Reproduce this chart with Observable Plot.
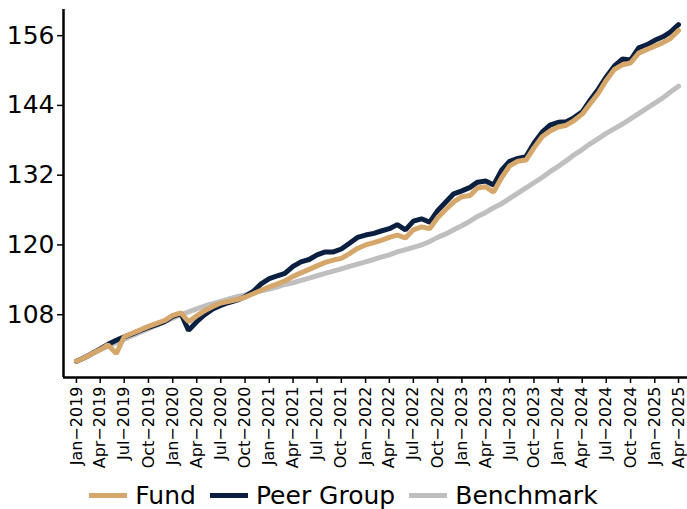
<!DOCTYPE html>
<html>
<head>
<meta charset="utf-8">
<script src="https://cdn.jsdelivr.net/npm/d3@7"></script>
<script src="https://cdn.jsdelivr.net/npm/@observablehq/plot@0.6"></script>
<style>
  html, body { margin: 0; padding: 0; background: #fff; }
  body { width: 687px; height: 509px; overflow: hidden; font-family: "DejaVu Sans", sans-serif; }
  #legend { display: flex; justify-content: center; align-items: center; height: 39px; margin-top: 6px; font-size: 25px; color: #000; }
  .item { display: flex; align-items: center; margin: 0 7px; }
  .sw { width: 38px; height: 5px; margin-right: 8px; }
</style>
</head>
<body>
<div id="chart"></div>
<div id="legend"></div>
<script>
// Monthly index values, Jan-2019 .. Apr-2025
const seriesNames = ["Fund", "Peer Group", "Benchmark"];
const seriesColors = ["#d6a76b", "#0b1f40", "#bfbfbf"];
const startMonth = "2019-01-01";
const fund = [
  100.0, 100.6, 101.3, 102.0, 102.8, 101.3, 104.2, 104.8, 105.4, 106.0, 106.5, 107.0,
  107.9, 108.3, 106.8, 107.8, 108.7, 109.4, 110.0, 110.3, 110.6, 111.0, 111.6, 112.2,
  112.8, 113.3, 113.8, 114.6, 115.2, 115.8, 116.4, 117.0, 117.4, 117.7, 118.5, 119.4,
  120.0, 120.4, 120.8, 121.3, 121.7, 121.2, 122.6, 123.1, 122.8, 124.7, 126.1, 127.4,
  128.3, 128.5, 129.8, 130.0, 129.1, 131.6, 133.6, 134.4, 134.6, 136.7, 138.6, 139.6,
  140.3, 140.6, 141.4, 142.5, 144.3, 146.1, 148.3, 150.2, 151.0, 151.3, 153.0, 153.6,
  154.2, 154.8, 155.5, 156.9
];
const peer = [
  100.0, 100.6, 101.3, 102.1, 102.9, 103.6, 104.2, 104.7, 105.3, 105.8, 106.3, 106.8,
  107.7, 108.2, 105.3, 106.8, 108.0, 109.0, 109.6, 110.1, 110.5, 111.1, 112.0, 113.3,
  114.2, 114.7, 115.1, 116.3, 117.1, 117.5, 118.3, 118.8, 118.8, 119.3, 120.3, 121.3,
  121.7, 122.0, 122.4, 122.8, 123.5, 122.6, 124.1, 124.5, 123.9, 125.9, 127.4, 128.8,
  129.3, 129.9, 130.8, 131.0, 130.3, 132.9, 134.4, 134.9, 135.2, 137.5, 139.4, 140.6,
  141.1, 141.2, 141.9, 142.9, 144.9, 146.8, 148.9, 150.8, 152.0, 151.8, 153.9, 154.4,
  155.2, 155.8, 156.6, 157.9
];
const benchmark = [
  100.0, 100.7, 101.4, 102.0, 102.6, 103.2, 103.8, 104.4, 105.0, 105.6, 106.2, 106.8,
  107.4, 108.0, 108.5, 109.0, 109.5, 109.9, 110.3, 110.7, 111.1, 111.4, 111.8, 112.1,
  112.4, 112.8, 113.2, 113.5, 113.9, 114.3, 114.7, 115.1, 115.5, 115.9, 116.3, 116.7,
  117.1, 117.5, 117.9, 118.3, 118.8, 119.2, 119.6, 120.0, 120.6, 121.3, 121.9, 122.6,
  123.3, 124.1, 124.9, 125.6, 126.4, 127.1, 128.0, 128.9, 129.8, 130.7, 131.6, 132.6,
  133.5, 134.5, 135.5, 136.4, 137.4, 138.3, 139.2, 140.0, 140.8, 141.7, 142.6, 143.5,
  144.4, 145.3, 146.3, 147.3
];
const yTicks = [108, 120, 132, 144, 156];
const yDomain = [97.2, 160.5];
const xDomain = ["2018-11-13", "2025-05-05"];

const start = new Date(startMonth + "T00:00:00Z");
const toRows = (arr, name) => arr.map((v, i) => ({date: d3.utcMonth.offset(start, i), value: v, series: name}));
const seriesData = [fund, peer, benchmark];
const rows = seriesData.map((arr, k) => toRows(arr, seriesNames[k]));
const x0 = new Date(xDomain[0] + "T00:00:00Z");
const x1 = new Date(xDomain[1] + "T00:00:00Z");

const chart = Plot.plot({
  width: 687,
  height: 470,
  marginLeft: 63,
  marginRight: 0,
  marginTop: 9,
  marginBottom: 93,
  style: {fontFamily: "DejaVu Sans, sans-serif", background: "#fff", color: "#000"},
  x: {type: "utc", domain: [x0, x1]},
  y: {domain: yDomain},
  marks: [
    Plot.line(rows[2], {x: "date", y: "value", stroke: seriesColors[2], strokeWidth: 5, strokeLinejoin: "round"}),
    Plot.line(rows[1], {x: "date", y: "value", stroke: seriesColors[1], strokeWidth: 5, strokeLinejoin: "miter"}),
    Plot.line(rows[0], {x: "date", y: "value", stroke: seriesColors[0], strokeWidth: 5, strokeLinejoin: "miter"}),
    Plot.axisY({ticks: yTicks, tickFormat: d => String(d), fontSize: 25, tickSize: 6, tickPadding: 3, strokeWidth: 1.5, label: null}),
    Plot.axisX({ticks: "3 months", tickFormat: d3.utcFormat("%b\u2212%Y"), tickRotate: -90, fontSize: 16, tickSize: 6, tickPadding: 3, strokeWidth: 1.5, label: null}),
    Plot.ruleX([x0], {stroke: "#000", strokeWidth: 2.5}),
    Plot.ruleY([yDomain[0]], {stroke: "#000", strokeWidth: 2.5})
  ]
});
document.getElementById("chart").appendChild(chart);

const legend = document.getElementById("legend");
seriesNames.forEach((name, k) => {
  const item = document.createElement("div");
  item.className = "item";
  const sw = document.createElement("span");
  sw.className = "sw";
  sw.style.background = seriesColors[k];
  const t = document.createElement("span");
  t.textContent = name;
  item.appendChild(sw);
  item.appendChild(t);
  legend.appendChild(item);
});
</script>
</body>
</html>
